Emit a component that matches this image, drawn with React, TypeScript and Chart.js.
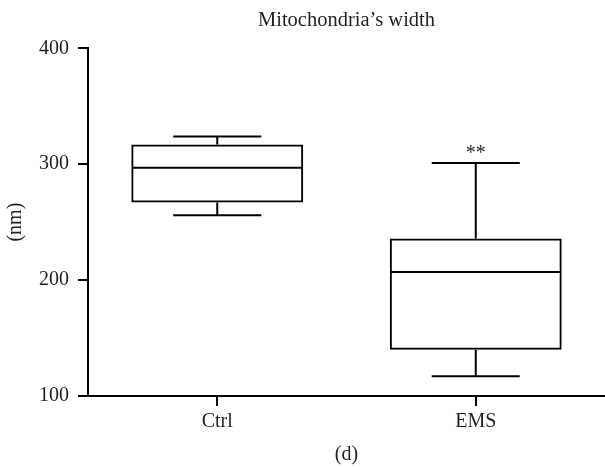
import React, { useEffect, useRef } from 'react';
import { Chart, registerables } from 'chart.js';

Chart.register(...registerables);

const categories = ['Ctrl', 'EMS'];
const whiskerLow = [256, 117];
const quartile1 = [267, 140];
const medians = [297, 207];
const quartile3 = [317, 236];
const whiskerHigh = [324, 301];
const significance = ['', '**'];
const yTicks = [100, 200, 300, 400];

const FONT = "'Liberation Serif', 'Times New Roman', serif";
const TEXT = '#231f20';

const boxPlugin = {
  id: 'boxWhiskers',
  afterDatasetsDraw(chart: any) {
    const { ctx } = chart;
    const y = chart.scales.y;
    const meta = chart.getDatasetMeta(0);
    ctx.save();
    ctx.strokeStyle = '#000';
    ctx.lineWidth = 2;
    ctx.lineCap = 'butt';
    meta.data.forEach((bar: any, i: number) => {
      const x = bar.x;
      const w = bar.width;
      const left = x - w / 2 + 1;
      const right = x + w / 2 - 1;
      const cap = w * 0.256;
      const yMed = y.getPixelForValue(medians[i]);
      const yQ1 = y.getPixelForValue(quartile1[i]);
      const yQ3 = y.getPixelForValue(quartile3[i]);
      const yLo = y.getPixelForValue(whiskerLow[i]);
      const yHi = y.getPixelForValue(whiskerHigh[i]);
      ctx.beginPath();
      ctx.moveTo(left, yMed);
      ctx.lineTo(right, yMed);
      ctx.moveTo(x, yQ3);
      ctx.lineTo(x, yHi);
      ctx.moveTo(x - cap, yHi);
      ctx.lineTo(x + cap, yHi);
      ctx.moveTo(x, yQ1);
      ctx.lineTo(x, yLo);
      ctx.moveTo(x - cap, yLo);
      ctx.lineTo(x + cap, yLo);
      ctx.stroke();
      if (significance[i]) {
        ctx.fillStyle = TEXT;
        ctx.font = `20px ${FONT}`;
        ctx.textAlign = 'center';
        ctx.textBaseline = 'alphabetic';
        ctx.fillText(significance[i], x, yHi - 4);
      }
    });
    ctx.restore();
  },
};

export default function App() {
  const ref = useRef<HTMLCanvasElement | null>(null);

  useEffect(() => {
    if (!ref.current) return;
    const chart = new Chart(ref.current, {
      type: 'bar',
      data: {
        labels: categories,
        datasets: [
          {
            data: categories.map((_, i) => [quartile1[i], quartile3[i]]),
            backgroundColor: 'rgba(255,255,255,0)',
            borderColor: '#000',
            borderWidth: 2,
            borderSkipped: false,
            categoryPercentage: 1,
            barPercentage: 0.665,
          } as any,
        ],
      },
      options: {
        responsive: false,
        animation: false,
        events: [],
        devicePixelRatio: 1,
        layout: { padding: 0 },
        plugins: {
          legend: { display: false },
          tooltip: { enabled: false },
          title: {
            display: true,
            text: "Mitochondria’s width",
            fullSize: false,
            color: TEXT,
            font: { family: FONT, size: 20.5, weight: 'normal' },
            padding: { top: 8.5, bottom: 15.2 },
          },
        },
        scales: {
          x: {
            type: 'category',
            offset: true,
            grid: {
              offset: false,
              drawOnChartArea: false,
              drawTicks: true,
              tickLength: 10,
              color: '#000',
              lineWidth: 2,
            },
            border: { display: true, color: '#000', width: 2 },
            ticks: {
              color: TEXT,
              padding: 4,
              font: { family: FONT, size: 20 },
            },
            title: {
              display: true,
              text: '(d)',
              color: TEXT,
              font: { family: FONT, size: 20 },
              padding: { top: 0, bottom: 1 },
            },
            afterFit(scale: any) {
              scale.height = 72;
            },
          },
          y: {
            type: 'linear',
            min: 100,
            max: 400,
            afterBuildTicks(scale: any) {
              scale.ticks = yTicks.map((v) => ({ value: v }));
            },
            grid: {
              drawOnChartArea: false,
              drawTicks: true,
              tickLength: 10,
              color: '#000',
              lineWidth: 2,
            },
            border: { display: true, color: '#000', width: 2 },
            ticks: {
              color: TEXT,
              padding: 9,
              font: { family: FONT, size: 20 },
            },
            title: {
              display: true,
              text: '(nm)',
              color: TEXT,
              font: { family: FONT, size: 20 },
              padding: { top: 4, bottom: 0 },
            },
            afterFit(scale: any) {
              scale.width = 88;
            },
          },
        },
      },
      plugins: [boxPlugin],
    } as any);
    return () => chart.destroy();
  }, []);

  return (
    <div style={{ position: 'fixed', left: 0, top: 0, width: 605, height: 468, background: '#fff' }}>
      <canvas ref={ref} width={605} height={468} style={{ display: 'block' }} />
    </div>
  );
}
